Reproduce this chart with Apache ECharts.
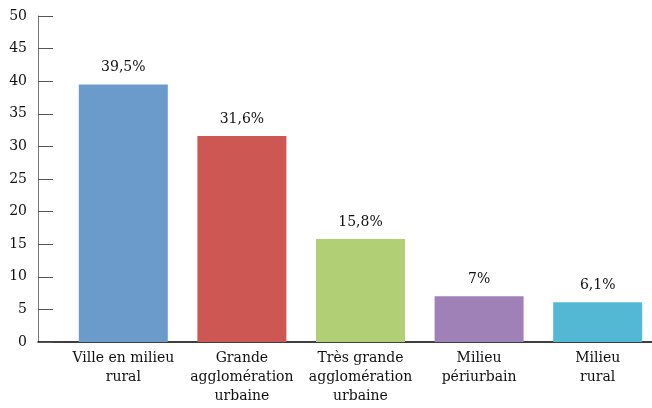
<!DOCTYPE html>
<html><head><meta charset="utf-8">
<script src="https://cdn.jsdelivr.net/npm/echarts@6/dist/echarts.min.js"></script>
<style>html,body{margin:0;padding:0;background:#fff;overflow:hidden}#c{width:660px;height:408px}</style>
</head><body><div id="c"></div>
<script>
const categories = ["Ville en milieu\nrural", "Grande\nagglomération\nurbaine", "Très grande\nagglomération\nurbaine", "Milieu\npériurbain", "Milieu\nrural"];
const values = [39.5, 31.6, 15.8, 7, 6.1];
const valueLabels = ["39,5%", "31,6%", "15,8%", "7%", "6,1%"];
const colors = ["#6b9bcb", "#cd5753", "#b1cf74", "#9f80b7", "#53b8d3"];
const yTicks = [0, 5, 10, 15, 20, 25, 30, 35, 40, 45, 50];

const font = "'DejaVu Serif', Georgia, serif";
const chart = echarts.init(document.getElementById('c'), null, {renderer: 'canvas'});
chart.setOption({
  animation: false,
  grid: [
    {left: 38, right: 8, top: 16, bottom: 66},
    {left: 64, right: 3, top: 16, bottom: 66}
  ],
  xAxis: [
    {gridIndex: 0, type: 'value', min: 0, max: 1, axisLine: {show: true, onZero: false, lineStyle: {color: '#000', width: 1.5}}, axisTick: {show: false}, axisLabel: {show: false}, splitLine: {show: false}},
    {gridIndex: 1, type: 'category', data: categories, axisLine: {show: false}, axisTick: {show: false},
     axisLabel: {interval: 0, margin: 7, fontFamily: font, fontSize: 14, color: '#111', lineHeight: 19}}
  ],
  yAxis: [
    {gridIndex: 0, type: 'value', min: 0, max: 50, interval: 5,
     axisLine: {show: true, lineStyle: {color: '#777'}},
     axisTick: {show: true, inside: true, length: 15, lineStyle: {color: '#555'}},
     axisLabel: {margin: 11, fontFamily: font, fontSize: 14, color: '#111',
       formatter: v => yTicks.includes(v) ? String(v) : ''},
     splitLine: {show: false}},
    {gridIndex: 1, type: 'value', min: 0, max: 50, interval: 5, show: false}
  ],
  series: [{
    type: 'bar', xAxisIndex: 1, yAxisIndex: 1, barWidth: 89,
    data: values.map((v, i) => ({value: v, itemStyle: {color: colors[i]}})),
    label: {show: true, position: 'top', distance: 10, fontFamily: font, fontSize: 14, color: '#111',
      formatter: p => valueLabels[p.dataIndex]}
  }]
});
</script></body></html>
